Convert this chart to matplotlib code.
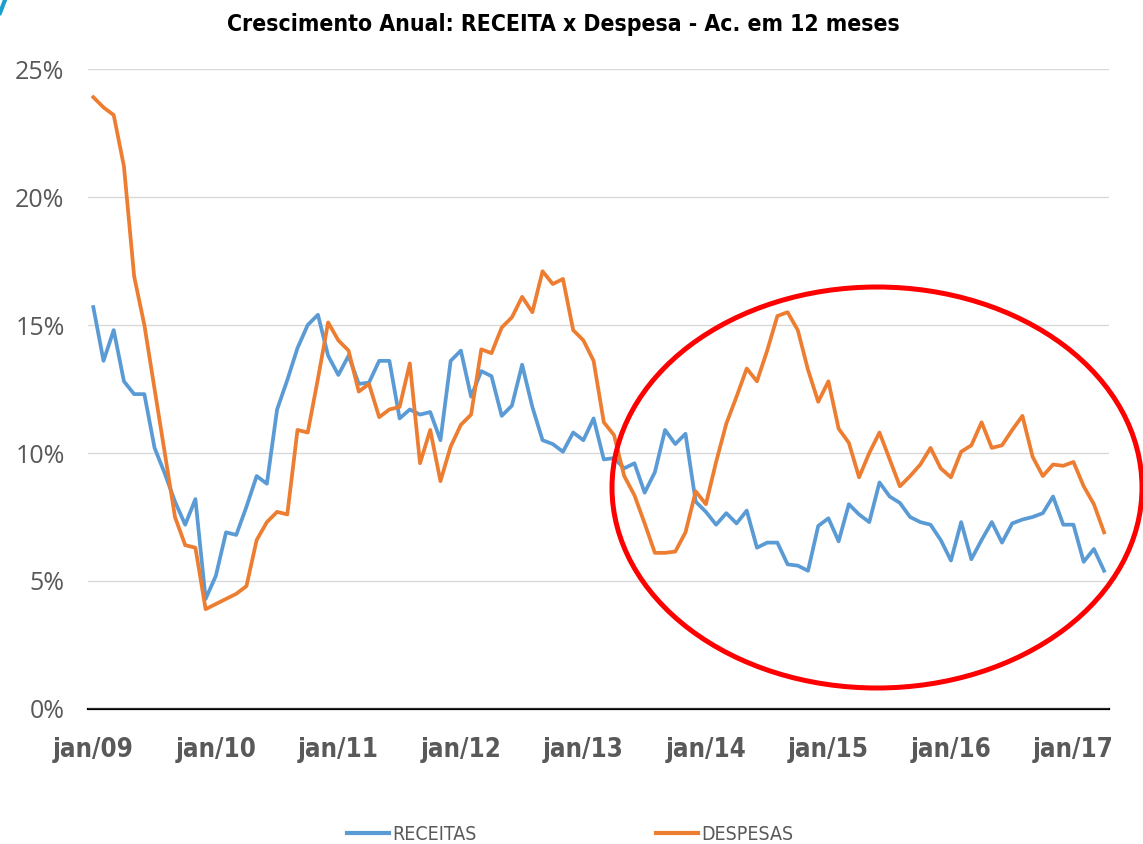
import matplotlib
matplotlib.use('Agg')
import numpy as np
import matplotlib.pyplot as plt
from matplotlib.patches import Ellipse
from matplotlib.lines import Line2D

# --- dados: crescimento anual acumulado em 12 meses (%), jan/09 a abr/17 ---
receitas = [15.7, 13.6, 14.8, 12.8, 12.3, 12.3, 10.2, 9.2, 8.1, 7.2, 8.2, 4.3,
            5.2, 6.9, 6.8, 7.9, 9.1, 8.8, 11.7, 12.85, 14.1, 15.0, 15.4, 13.8,
            13.05, 13.8, 12.7, 12.75, 13.6, 13.6, 11.35, 11.7, 11.5, 11.6, 10.5, 13.6,
            14.0, 12.2, 13.2, 13.0, 11.45, 11.85, 13.45, 11.8, 10.5, 10.35, 10.05, 10.8,
            10.5, 11.35, 9.75, 9.8, 9.4, 9.6, 8.45, 9.25, 10.9, 10.35, 10.75, 8.1,
            7.7, 7.2, 7.65, 7.25, 7.75, 6.3, 6.5, 6.5, 5.65, 5.6, 5.4, 7.15,
            7.45, 6.55, 8.0, 7.6, 7.3, 8.85, 8.3, 8.05, 7.5, 7.3, 7.2, 6.6,
            5.8, 7.3, 5.85, 6.6, 7.3, 6.5, 7.25, 7.4, 7.5, 7.65, 8.3, 7.2,
            7.2, 5.75, 6.25, 5.4]
despesas = [23.9, 23.5, 23.2, 21.2, 16.9, 15.0, 12.5, 10.0, 7.5, 6.4, 6.3, 3.9,
            4.1, 4.3, 4.5, 4.8, 6.6, 7.3, 7.7, 7.6, 10.9, 10.8, 12.9, 15.1,
            14.4, 14.0, 12.4, 12.7, 11.4, 11.7, 11.8, 13.5, 9.6, 10.9, 8.9, 10.25,
            11.1, 11.5, 14.05, 13.9, 14.9, 15.3, 16.1, 15.5, 17.1, 16.6, 16.8, 14.8,
            14.4, 13.6, 11.2, 10.7, 9.1, 8.35, 7.25, 6.1, 6.1, 6.15, 6.9, 8.5,
            8.0, 9.65, 11.15, 12.2, 13.3, 12.8, 14.0, 15.35, 15.5, 14.8, 13.25, 12.0,
            12.8, 10.95, 10.4, 9.05, 10.0, 10.8, 9.75, 8.7, 9.1, 9.55, 10.2, 9.4,
            9.05, 10.05, 10.3, 11.2, 10.2, 10.3, 10.9, 11.45, 9.85, 9.1, 9.55, 9.5,
            9.65, 8.7, 8.0, 6.9]
anos = ['09', '10', '11', '12', '13', '14', '15', '16', '17']
tick_labels = ['jan/' + a for a in anos]

GRAY = '#595959'
COND = dict(family='DejaVu Sans', stretch='condensed')

W, H = 1143, 844
fig = plt.figure(figsize=(W / 100, H / 100), dpi=100)
ax = fig.add_axes([88.2 / W, 1 - 709 / H, 1021 / W, 640 / H])

x = np.arange(len(receitas))
ax.plot(x, receitas, color='#5B9BD5', lw=2.7, solid_joinstyle='round', label='RECEITAS')
ax.plot(x, despesas, color='#ED7D31', lw=2.7, solid_joinstyle='round', label='DESPESAS')

ax.set_xlim(-0.5, len(receitas) - 0.5)
ax.set_ylim(0, 25)
ax.set_yticks(range(0, 26, 5))
ax.set_yticklabels([f'{v}%' for v in range(0, 26, 5)], fontsize=18, color=GRAY,
                   family=['Open Sans', 'DejaVu Sans'])
ax.set_xticks(range(0, len(receitas), 12))
ax.set_xticklabels(tick_labels, fontsize=18.5, fontweight='bold', color=GRAY, **COND)
ax.tick_params(axis='both', length=0)
ax.tick_params(axis='x', pad=20)
ax.tick_params(axis='y', pad=17)
ax.grid(axis='y', color='#D9D9D9', lw=1)
ax.set_axisbelow(True)
for s in ['top', 'right', 'left']:
    ax.spines[s].set_visible(False)
ax.spines['bottom'].set_color('black')
ax.spines['bottom'].set_linewidth(1.6)
ax.spines['bottom'].set_zorder(0.5)

fig.text(563 / W, 1 - 25 / H, 'Crescimento Anual: RECEITA x Despesa - Ac. em 12 meses',
         ha='center', va='center', fontsize=16.5, fontweight='bold', **COND)

# legenda
handles = [Line2D([], [], color='#5B9BD5', lw=3), Line2D([], [], color='#ED7D31', lw=3)]
fig.legend(handles, ['RECEITAS', 'DESPESAS'], loc='center', bbox_to_anchor=(570 / W, 1 - 834 / H),
           ncol=2, frameon=False, handlelength=2.2, handletextpad=0.15, columnspacing=9.2,
           prop=dict(size=14, **COND), labelcolor=GRAY)

# destaque em vermelho
fig.patches.append(Ellipse((877 / W, 1 - 487.5 / H), 530 / W, 401 / H, transform=fig.transFigure,
                           fill=False, ec='#FF0000', lw=3.6))
fig.lines.append(Line2D([0 / W, 5 / W], [1 - 13 / H, 1.0], transform=fig.transFigure,
                        color='#1A9FD0', lw=3))

fig.savefig('out.png', dpi=100)
